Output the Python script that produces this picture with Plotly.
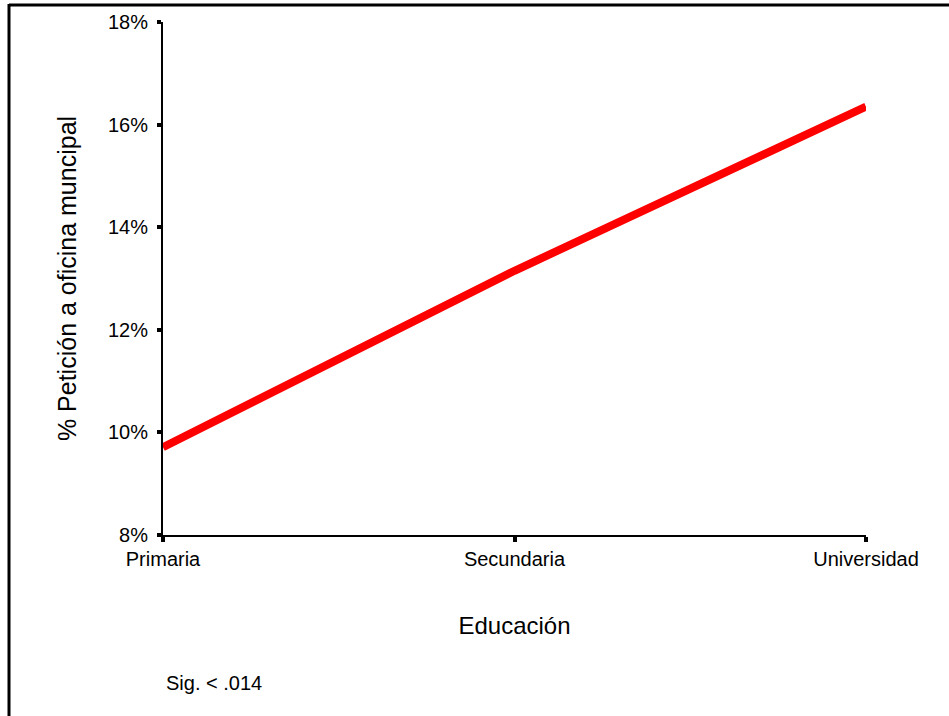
import plotly.graph_objects as go

categories = ["Primaria", "Secundaria", "Universidad"]
values = [9.71, 13.15, 16.35]
y_ticks = [8, 10, 12, 14, 16, 18]
y_ticktext = ["8%", "10%", "12%", "14%", "16%", "18%"]

W, H = 949, 716
L, R, T, B = 163, 83, 22, 181
PW, PH = W - L - R, H - T - B

def px_x(p):
    return (p - L) / PW

def px_y(p):
    return 1 - (p - T) / PH

FONT = "Liberation Sans, Arial, sans-serif"

fig = go.Figure()
fig.add_trace(go.Scatter(
    x=[0, 1, 2], y=values, mode="lines",
    line=dict(color="#FF0000", width=8),
    hoverinfo="skip", showlegend=False, cliponaxis=False,
))

fig.update_layout(
    width=W, height=H,
    margin=dict(l=L, r=R, t=T, b=B),
    paper_bgcolor="white", plot_bgcolor="white",
    font=dict(family=FONT, color="black"),
    showlegend=False,
    xaxis=dict(
        range=[0, 2], tickmode="array", tickvals=[0, 1, 2], ticktext=categories,
        showline=True, linecolor="black", linewidth=2, showgrid=False, zeroline=False,
        ticks="outside", ticklen=5, tickwidth=4, tickcolor="black",
        tickfont=dict(size=20, family=FONT),
        title=dict(text="Educación", font=dict(size=24, family=FONT), standoff=48),
    ),
    yaxis=dict(
        range=[8, 18], tickmode="array", tickvals=y_ticks, ticktext=y_ticktext,
        showline=True, linecolor="black", linewidth=2, showgrid=False, zeroline=False,
        ticks="outside", ticklen=4, tickwidth=4, tickcolor="black",
        ticklabelstandoff=5,
        tickfont=dict(size=20, family=FONT),
        title=dict(text="% Petición a oficina muncipal", font=dict(size=25, family=FONT), standoff=24),
    ),
    shapes=[
        dict(type="line", xref="paper", yref="paper",
             x0=px_x(9), x1=px_x(W + 5), y0=px_y(5), y1=px_y(5),
             line=dict(color="black", width=3)),
        dict(type="line", xref="paper", yref="paper",
             x0=px_x(9), x1=px_x(9), y0=px_y(4), y1=px_y(H + 5),
             line=dict(color="black", width=3)),
    ],
    annotations=[
        dict(text="Sig. < .014", xref="paper", yref="paper",
             x=px_x(164), y=px_y(683), xanchor="left", yanchor="middle",
             showarrow=False, font=dict(size=20, family=FONT)),
    ],
)

fig.write_html("out.html", config={"displayModeBar": False},
               post_script="document.body.style.margin='0';document.body.style.overflow='hidden';")
